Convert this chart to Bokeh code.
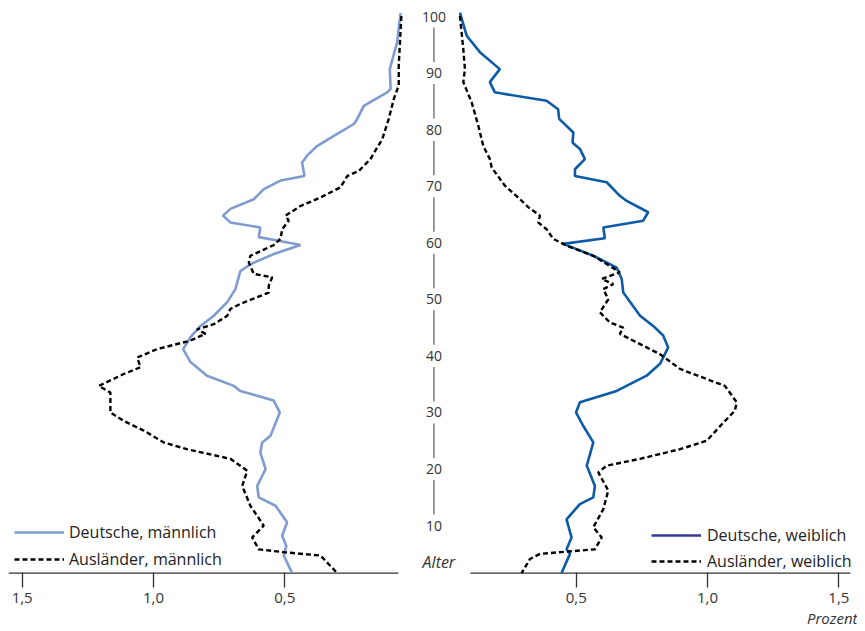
from bokeh.plotting import figure
from bokeh.models import (Range1d, FixedTicker, CustomJSTickFormatter, Legend,
                          LegendItem, Title)
from bokeh.core.properties import value
from bokeh.embed import file_html
from bokeh.resources import INLINE

# ---------------- data ----------------
age_labels = [10, 20, 30, 40, 50, 60, 70, 80, 90, 100]
tick_values = [0.5, 1.0, 1.5]

# Deutsche, männlich
m_de_age = [99, 93.9, 89.1, 85.6, 85, 82.6, 80.3, 79.4, 77.3, 75.5, 73.8, 72.6, 70.2, 69.4,
            67.9, 66.1, 64.4, 63.2, 62, 61.1, 59.4, 58.8, 58, 56.4, 54.6, 53.4, 51.4, 50.2,
            47.9, 45.5, 43.7, 41.7, 39.6, 37.3, 34.9, 33.1, 32.2, 30.5, 28.4, 24.3, 23.1,
            21.3, 18.4, 15.4, 13.4, 11.9, 9, 6.6, 4.8, 3.1, 0]
m_de_pct = [0.059, 0.072, 0.100, 0.097, 0.110, 0.199, 0.224, 0.237, 0.313, 0.377, 0.415,
            0.434, 0.425, 0.516, 0.580, 0.618, 0.707, 0.735, 0.707, 0.593, 0.599, 0.529,
            0.440, 0.542, 0.631, 0.669, 0.681, 0.688, 0.719, 0.770, 0.821, 0.859, 0.887,
            0.859, 0.796, 0.694, 0.669, 0.542, 0.519, 0.554, 0.586, 0.593, 0.573, 0.605,
            0.599, 0.535, 0.491, 0.510, 0.494, 0.504, 0.472]

# Ausländer, männlich
m_au_age = [98.5, 89.7, 86.2, 83.8, 80.3, 76.7, 73.2, 71.1, 70.2, 68.2, 66.4, 64.9, 63.2,
            62.3, 60.8, 59.1, 58, 56.1, 54.9, 52.9, 52.3, 50.8, 49.6, 47.6, 46.7, 45.5, 44,
            43.1, 42.3, 41.1, 39.6, 38.1, 36.4, 35.2, 33.1, 31.9, 28.4, 26.9, 25.2, 23.1,
            21.9, 20.2, 18.1, 15.4, 11.9, 8.4, 6.3, 4.2, 3.7, 3.1, 0]
m_au_pct = [0.056, 0.066, 0.066, 0.085, 0.104, 0.129, 0.174, 0.218, 0.262, 0.288, 0.364,
            0.440, 0.497, 0.485, 0.510, 0.516, 0.542, 0.631, 0.637, 0.618, 0.548, 0.561,
            0.561, 0.669, 0.707, 0.719, 0.770, 0.834, 0.802, 0.859, 0.986, 1.062, 1.049,
            1.113, 1.208, 1.164, 1.164, 1.113, 1.037, 0.961, 0.872, 0.707, 0.643, 0.662,
            0.631, 0.580, 0.624, 0.599, 0.504, 0.364, 0.300]

# Deutsche, weiblich
f_de_age = [99.1, 95, 92.1, 89.1, 86.8, 85, 83.5, 82, 80.3, 77.9, 76.1, 75, 73.2, 71.4,
            70.2, 69.1, 66.7, 65.8, 63.8, 62.3, 61.1, 59.2, 58.2, 56.1, 54, 52, 49.6, 45.5,
            43.7, 42, 39.9, 37, 34.9, 32.2, 30.2, 28.4, 26, 23.1, 19, 15.4, 13.4, 12.2, 9.5,
            6.3, 4.2, 3.4, 0]
f_de_pct = [0.057, 0.083, 0.133, 0.209, 0.171, 0.190, 0.387, 0.431, 0.435, 0.489, 0.486,
            0.514, 0.533, 0.495, 0.495, 0.616, 0.666, 0.692, 0.774, 0.755, 0.603, 0.609,
            0.450, 0.565, 0.654, 0.673, 0.679, 0.743, 0.793, 0.831, 0.850, 0.819, 0.768,
            0.654, 0.514, 0.499, 0.527, 0.565, 0.540, 0.571, 0.565, 0.514, 0.463, 0.482,
            0.463, 0.476, 0.444]

# Ausländer, weiblich
f_au_age = [98.5, 92.6, 89.1, 86.8, 83.2, 79.1, 75.5, 73.2, 71.7, 68.5, 66.1, 64.7, 63.2,
            62, 60.8, 59.1, 57.9, 56.1, 54.3, 53.2, 52, 51.1, 50.2, 48.4, 46.1, 44.3, 43.4,
            42.3, 40.8, 38.7, 36.1, 34.3, 33.1, 30.2, 28.7, 26.6, 23.4, 21.9, 20.2, 19,
            17.8, 14.6, 11.3, 8.1, 6.3, 4.2, 3.4, 2.5, 0]
f_au_pct = [0.057, 0.070, 0.076, 0.070, 0.102, 0.127, 0.146, 0.171, 0.178, 0.228, 0.286,
            0.317, 0.362, 0.355, 0.387, 0.412, 0.463, 0.565, 0.628, 0.666, 0.597, 0.641,
            0.603, 0.622, 0.590, 0.628, 0.679, 0.666, 0.730, 0.819, 0.895, 0.997, 1.066,
            1.111, 1.104, 1.060, 0.997, 0.895, 0.743, 0.616, 0.584, 0.622, 0.603, 0.565,
            0.597, 0.571, 0.362, 0.324, 0.292]

# ---------------- layout constants ----------------
GAP = 0.11            # offset of the female zero line to the right of the male zero
LABEL_X = 0.068       # x position of the age labels (centre strip)
FONT = "Open Sans"
TXT = "#333333"
C_M_DE = "#7f9bd0"
C_F_DE = "#0d5aa7"
C_F_DE_LEG = "#333a94"

def male_x(vals):
    return [-v for v in vals]

def female_x(vals):
    return [v + GAP for v in vals]

p = figure(frame_width=849, frame_height=566, output_backend="svg",
           toolbar_location=None, x_range=Range1d(-1.552, 1.681),
           y_range=Range1d(-0.25, 99.82), y_axis_location=None,
           min_border_left=8, min_border_right=0, min_border_top=8,
           min_border_bottom=0)
p.outline_line_color = None
p.grid.visible = False
p.background_fill_color = "white"

# ---- x axis (ticks + labels), axis line drawn per panel ----
ax = p.xaxis[0]
ax.ticker = FixedTicker(ticks=[-t for t in tick_values] + [t + GAP for t in tick_values])
ax.formatter = CustomJSTickFormatter(args=dict(gap=GAP), code="""
    const v = tick < 0 ? -tick : tick - gap;
    return v.toFixed(1).replace('.', ',');
""")
ax.axis_line_color = None
ax.major_tick_out = 13
ax.major_tick_in = 2
ax.major_tick_line_color = TXT
ax.major_tick_line_width = 1.3
ax.minor_tick_line_color = None
ax.major_label_standoff = 5
ax.major_label_text_font = FONT
ax.major_label_text_font_size = "15px"
ax.major_label_text_color = TXT

# axis lines of both panels
p.segment(x0=[-1.552, 0.097 + GAP], x1=[-0.067, 1.544 + GAP], y0=[0, 0], y1=[0, 0],
          line_color=TXT, line_width=1.4)

# ---- series ----
r_mde = p.line(male_x(m_de_pct), m_de_age, line_color=C_M_DE, line_width=2.6)
r_mau = p.line(male_x(m_au_pct), m_au_age, line_color="black", line_width=2.4,
               line_dash="5 3")
r_fde = p.line(female_x(f_de_pct), f_de_age, line_color=C_F_DE, line_width=2.6)
r_fau = p.line(female_x(f_au_pct), f_au_age, line_color="black", line_width=2.4,
               line_dash="5 3")
# legend swatch for female Germans (navy in the original key)
nan = float("nan")
r_fde_leg = p.line([nan, nan], [nan, nan], line_color=C_F_DE_LEG, line_width=2.6)

# ---- centre age scale ----
lab_y = [a - 1.6 for a in age_labels]
p.text(x=[LABEL_X] * len(age_labels), y=lab_y, text=[str(a) for a in age_labels],
       text_align="center", text_baseline="middle", text_font=value(FONT),
       text_font_size="14px", text_color=TXT)
bars = age_labels[1:]
p.segment(x0=[LABEL_X] * len(bars), x1=[LABEL_X] * len(bars),
          y0=[a - 9.65 for a in bars], y1=[a - 3.55 for a in bars],
          line_color="#666666", line_width=1.3)
p.text(x=[0.087], y=[1.9], text=["Alter"], text_align="center",
       text_baseline="middle", text_font=value(FONT), text_font_size="16px",
       text_font_style="italic", text_color=TXT)

# ---- legends ----
def make_legend(items, loc, standoff, spacing):
    return Legend(items=items, location=loc, orientation="vertical",
                  background_fill_alpha=0, border_line_alpha=0, margin=0, padding=0,
                  spacing=spacing, glyph_width=50, glyph_height=20, label_height=20,
                  label_standoff=standoff, label_text_font=FONT,
                  label_text_font_size="16px", label_text_color="#222222")

leg_m = make_legend([LegendItem(label="Deutsche, männlich", renderers=[r_mde]),
                     LegendItem(label="Ausländer, männlich", renderers=[r_mau])],
                    (6, 4), 5, 5)
leg_f = make_legend([LegendItem(label="Deutsche, weiblich", renderers=[r_fde_leg]),
                     LegendItem(label="Ausländer, weiblich", renderers=[r_fau])],
                    (643, 2), 6, 4)
p.add_layout(leg_m, "center")
p.add_layout(leg_f, "center")

p.add_layout(Title(text="Prozent", align="right", text_font=FONT,
                   text_font_size="15px", text_font_style="italic",
                   text_color=TXT, standoff=0, offset=0), "below")

open("out.html", "w").write(file_html(p, INLINE))
